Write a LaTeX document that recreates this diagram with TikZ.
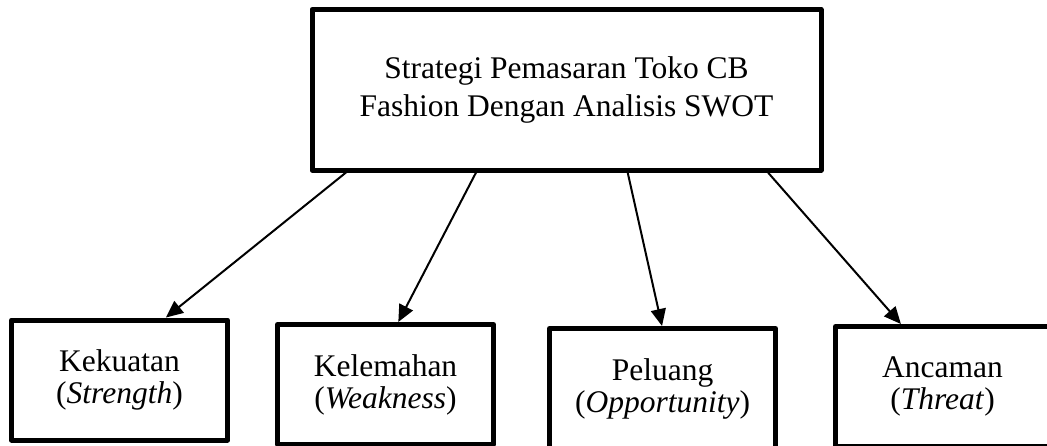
\documentclass[tikz,border=0pt]{standalone}
\usepackage{fontspec}
\setmainfont{Liberation Serif}
\usetikzlibrary{arrows.meta,calc}
\tikzset{
  bx/.style={draw,line width=2.5pt,line join=round,align=center,inner sep=0pt,font=\fontsize{15.75}{16}\selectfont},
  ar/.style={-{Triangle[length=8.5pt,width=7.5pt]},line width=1pt},
}
\begin{document}
\begin{tikzpicture}[x=0.5pt,y=-0.5pt,
  hd/.style={bx,minimum width=254.5pt,minimum height=80.25pt,font=\fontsize{15.75}{19}\selectfont},
  sub/.style={bx,minimum width=108pt,minimum height=60pt}]
  \useasboundingbox (0,0) rectangle (1047,445);
  \clip (0,0) rectangle (1047,445);
  \node[hd] (swot) at (566.5,89.75) {Strategi Pemasaran Toko CB\\Fashion Dengan Analisis SWOT};
  \node[sub] (kek) at (119.5,380) {Kekuatan\\(\textit{Strength})};
  \node[sub] (kel) at (385.5,384.5) {Kelemahan\\(\textit{Weakness})};
  \node[sub,minimum width=113pt] (pel) at (662.5,388.5) {Peluang\\(\textit{Opportunity})};
  \node[sub,minimum width=107pt] (anc) at (942.5,386.5) {Ancaman\\(\textit{Threat})};
  \draw[ar] ($(swot.south west)!.071!(swot.south east)$) -- ($(kek.north west)!.71!(kek.north east)$);
  \draw[ar] ($(swot.south west)!.324!(swot.south east)$) -- ($(kel.north west)!.558!(kel.north east)$);
  \draw[ar] ($(swot.south west)!.619!(swot.south east)$) -- ($(pel.north west)!.498!(pel.north east)$);
  \draw[ar] ($(swot.south west)!.892!(swot.south east)$) -- ($(anc.north west)!.31!(anc.north east)$);
\end{tikzpicture}
\end{document}
